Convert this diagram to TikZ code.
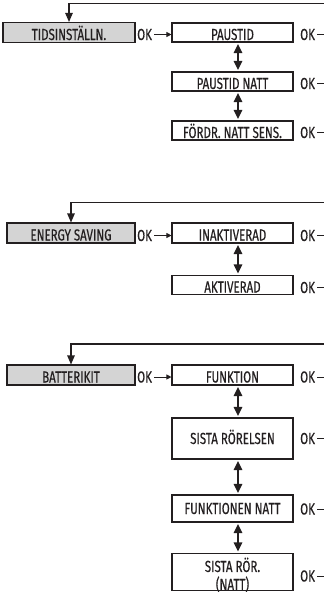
\documentclass[tikz,border=0pt]{standalone}
\usepackage{fontspec}
\setmainfont[FakeStretch=0.72,FakeBold=0.4]{Fira Sans}
\usetikzlibrary{arrows.meta}
\definecolor{boxgray}{HTML}{D4D4D4}
\definecolor{ink}{HTML}{231F20}
\begin{document}
\begin{tikzpicture}[x=1pt,y=-1pt,
  txt/.style={font=\fontsize{16}{15}\selectfont, text=ink},
  lowtxt/.style={text height=15pt, text depth=0pt},
  midtxt/.style={text height=11pt, text depth=0pt},
  menubox/.style={txt, lowtxt, draw=ink, line width=1.1pt, fill=boxgray, inner sep=0pt, minimum height=20pt},
  optbox/.style={txt, lowtxt, draw=ink, line width=1.1pt, fill=white, inner sep=0pt, minimum width=121pt, minimum height=19pt},
  oklabel/.style={txt, midtxt, inner sep=0pt, anchor=base west},
  updown/.style={draw=ink, line width=1.4pt, {Triangle[width=8.5pt,length=9pt]}-{Triangle[width=8.5pt,length=9pt]}, shorten <=1.5pt, shorten >=1.5pt},
  ret/.style={draw=ink, line width=1.1pt, -{Triangle[width=7.5pt,length=9pt]}},
  okarrow/.style={draw=ink, line width=1pt, -{Triangle[width=5pt,length=5pt]}, shorten <=2pt},
  okdash/.style={draw=ink, line width=1pt, shorten <=2pt}
]
\useasboundingbox (0,0) rectangle (324,592);
\coordinate (edge) at (324,0);

% ---------- Section 1 ----------
\node[menubox, minimum width=132pt] (L1) at (69,32.5) {TIDSINSTÄLLN.};
\node[optbox] (R1a) at (232.5,32.5) {PAUSTID};
\node[optbox] (R1b) at (232.5,81.5) {PAUSTID NATT};
\node[optbox] (R1c) at (232.5,130.5) {FÖRDR. NATT SENS.};
\coordinate (T1) at (324,3.3);
\draw[ret] (T1) -| (L1.north);
\node[oklabel] (OKm1) at (137,40) {OK};
\draw[okarrow] (OKm1.east) -- (R1a.west |- OKm1.east);
\node[oklabel] (OK1a) at (300,40) {OK};
\node[oklabel] (OK1b) at (300,89) {OK};
\node[oklabel] (OK1c) at (300,138) {OK};
\draw[okdash] (OK1a.east) -- (edge |- OK1a.east);
\draw[okdash] (OK1b.east) -- (edge |- OK1b.east);
\draw[okdash] (OK1c.east) -- (edge |- OK1c.east);
\draw[updown] ([xshift=5.5pt]R1a.south) -- ([xshift=5.5pt]R1b.north);
\draw[updown] ([xshift=5.5pt]R1b.south) -- ([xshift=5.5pt]R1c.north);

% ---------- Section 2 ----------
\node[menubox, minimum width=128pt] (L2) at (71,233) {ENERGY SAVING};
\node[optbox, minimum height=20pt] (R2a) at (232.5,233) {INAKTIVERAD};
\node[optbox] (R2b) at (232.5,285) {AKTIVERAD};
\coordinate (T2) at (324,202.5);
\draw[ret] (T2) -| (L2.north);
\node[oklabel] (OKm2) at (137,241) {OK};
\draw[okarrow] (OKm2.east) -- (R2a.west |- OKm2.east);
\node[oklabel] (OK2a) at (300,241) {OK};
\node[oklabel] (OK2b) at (300,293) {OK};
\draw[okdash] (OK2a.east) -- (edge |- OK2a.east);
\draw[okdash] (OK2b.east) -- (edge |- OK2b.east);
\draw[updown] ([xshift=5.5pt]R2a.south) -- ([xshift=5.5pt]R2b.north);

% ---------- Section 3 ----------
\node[menubox, minimum width=128pt] (L3) at (71,375) {BATTERIKIT};
\node[optbox, minimum height=20pt] (R3a) at (232.5,375) {FUNKTION};
\node[optbox, midtxt, minimum height=41pt] (R3b) at (232.5,438.5) {SISTA RÖRELSEN};
\node[optbox, midtxt, minimum height=27pt] (R3c) at (232.5,508.5) {FUNKTIONEN NATT};
\node[optbox, text height=36pt, text depth=0pt, minimum height=37pt] (R3d) at (232.5,572) {\begin{tabular}[b]{@{}c@{}}SISTA RÖR.\\(NATT)\end{tabular}};
\coordinate (T3) at (324,344);
\draw[ret] (T3) -| (L3.north);
\node[oklabel] (OKm3) at (137,382.5) {OK};
\draw[okarrow] (OKm3.east) -- (R3a.west |- OKm3.east);
\node[oklabel] (OK3a) at (300,382.5) {OK};
\node[oklabel] (OK3b) at (300,444) {OK};
\node[oklabel] (OK3c) at (300,514.5) {OK};
\node[oklabel] (OK3d) at (300,581.5) {OK};
\draw[okdash] (OK3a.east) -- (edge |- OK3a.east);
\draw[okdash] (OK3b.east) -- (edge |- OK3b.east);
\draw[okdash] (OK3c.east) -- (edge |- OK3c.east);
\draw[okdash] (OK3d.east) -- (edge |- OK3d.east);
\draw[updown] ([xshift=5.5pt]R3a.south) -- ([xshift=5.5pt]R3b.north);
\draw[updown] ([xshift=5.5pt]R3b.south) -- ([xshift=5.5pt]R3c.north);
\draw[updown] ([xshift=5.5pt]R3c.south) -- ([xshift=5.5pt]R3d.north);
\end{tikzpicture}
\end{document}
